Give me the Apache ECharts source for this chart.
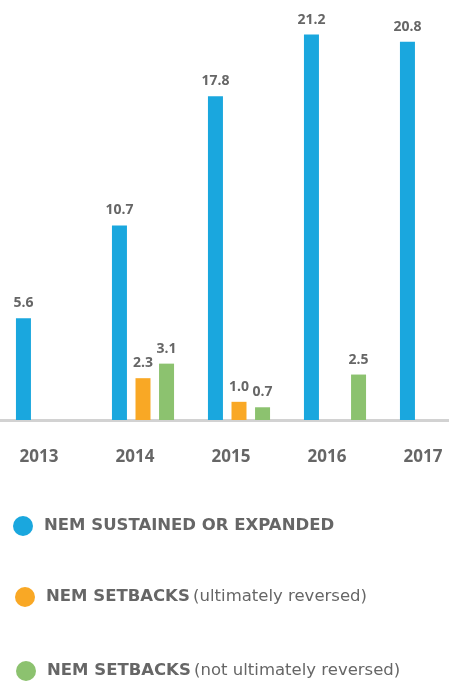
<!DOCTYPE html>
<html>
<head>
<meta charset="utf-8">
<script src="https://cdn.jsdelivr.net/npm/echarts@6/dist/echarts.min.js"></script>
<style>
  html, body { margin: 0; padding: 0; background: #fff; }
  #chart { width: 449px; height: 683px; }
</style>
</head>
<body>
<div id="chart"></div>
<script>
  // 年份
  const years = ['2013', '2014', '2015', '2016', '2017'];
  // 三个系列
  const sustained = [5.6, 10.7, 17.8, 21.2, 20.8];
  const setbacksReversed = [null, 2.3, 1.0, null, null];
  const setbacksNotReversed = [null, 3.1, 0.7, 2.5, null];
  const seriesNames = [
    'NEM SUSTAINED OR EXPANDED',
    'NEM SETBACKS (ultimately reversed)',
    'NEM SETBACKS (not ultimately reversed)'
  ];
  const colors = ['#1aa7de', '#f9a825', '#8cc26f'];

  const fontFamily = '"Open Sans", Lato, sans-serif';
  const legendFont = '"DejaVu Sans", "Open Sans", sans-serif';
  const textColor = '#666666';

  const myChart = echarts.init(document.getElementById('chart'));

  function legendFormatter(name) {
    const i = name.indexOf(' (');
    if (i < 0) return '{b|' + name + '}';
    return '{b|' + name.slice(0, i) + '} {n|' + name.slice(i + 1) + '}';
  }

  function makeLegend(idx, left, top) {
    return {
      data: [seriesNames[idx]],
      left: left,
      top: top,
      orient: 'vertical',
      icon: 'circle',
      itemWidth: 32,
      itemHeight: 20,
      selectedMode: false,
      formatter: legendFormatter,
      textStyle: {
        rich: {
          b: { fontFamily: legendFont, fontWeight: 'bold', fontSize: 16.5, color: textColor },
          n: { fontFamily: legendFont, fontWeight: 'normal', fontSize: 16.5, color: textColor }
        }
      }
    };
  }

  const valueLabel = {
    show: true,
    position: 'top',
    distance: 8,
    fontFamily: fontFamily,
    fontWeight: 'bold',
    fontSize: 14,
    color: textColor,
    formatter: p => p.value.toFixed(1)
  };

  myChart.setOption({
    animation: false,
    backgroundColor: '#fff',
    color: colors,
    legend: [
      makeLegend(0, 8, 511),
      makeLegend(1, 10, 582),
      makeLegend(2, 11, 656)
    ],
    grid: {
      left: -1,
      right: -30,
      top: 20,
      bottom: 263,
      outerBoundsMode: 'none'
    },
    xAxis: {
      type: 'category',
      data: years,
      axisTick: { show: false },
      axisLine: { lineStyle: { color: '#d2d2d2', width: 3 } },
      axisLabel: {
        margin: 29,
        fontFamily: fontFamily,
        fontWeight: 'bold',
        fontSize: 17,
        color: textColor,
        padding: [0, 16, 0, 0]
      }
    },
    yAxis: {
      type: 'value',
      min: 0,
      max: 22,
      show: false,
      splitLine: { show: false }
    },
    series: [
      { name: seriesNames[0], type: 'bar', data: sustained, barWidth: 15, barGap: '57%', label: valueLabel },
      { name: seriesNames[1], type: 'bar', data: setbacksReversed, barWidth: 15, barGap: '57%', label: valueLabel },
      { name: seriesNames[2], type: 'bar', data: setbacksNotReversed, barWidth: 15, barGap: '57%', label: valueLabel }
    ]
  });
</script>
</body>
</html>
